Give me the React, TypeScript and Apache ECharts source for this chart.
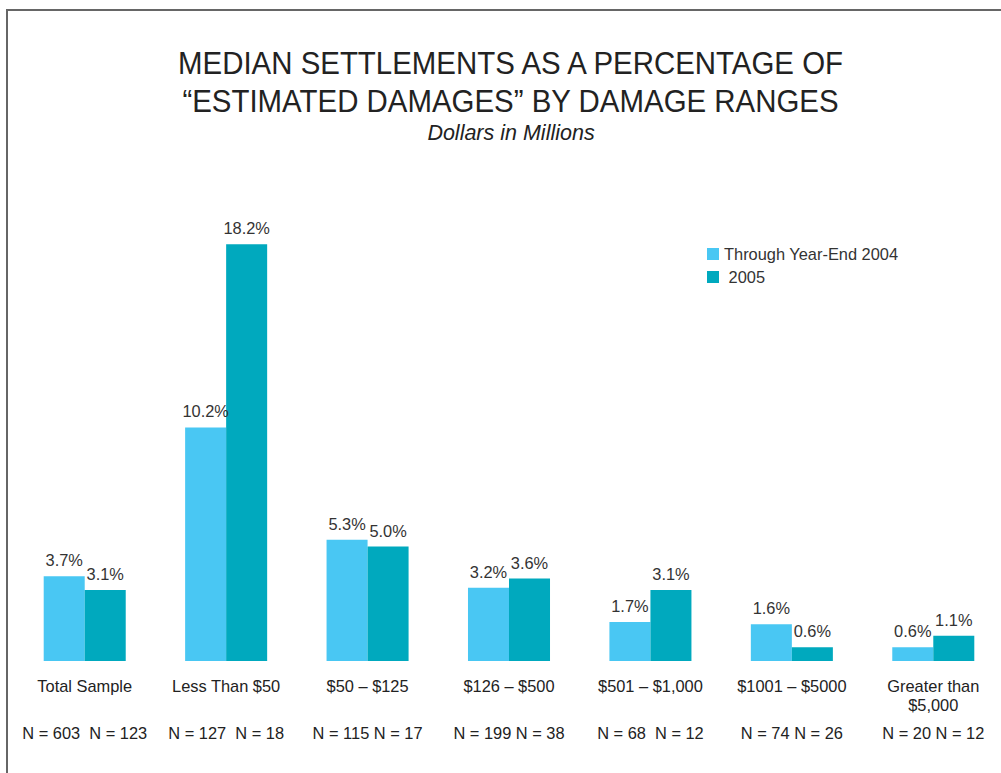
import React, { useEffect, useRef } from "react";
import * as echarts from "echarts";

const categories = [
  "Total Sample",
  "Less Than $50",
  "$50 – $125",
  "$126 – $500",
  "$501 – $1,000",
  "$1001 – $5000",
  "Greater than\n$5,000",
];
const through2004 = [3.7, 10.2, 5.3, 3.2, 1.7, 1.6, 0.6];
const year2005 = [3.1, 18.2, 5.0, 3.6, 3.1, 0.6, 1.1];
const nThrough2004 = [603, 127, 115, 199, 68, 74, 20];
const n2005 = [123, 18, 17, 38, 12, 26, 12];
const nSeparators = ["  ", "  ", " ", " ", "  ", " ", " "];
const titleLines = [
  "MEDIAN SETTLEMENTS AS A PERCENTAGE OF",
  "“ESTIMATED DAMAGES” BY DAMAGE RANGES",
];
const subtitle = "Dollars in Millions";

const LIGHT = "#49C7F3";
const DARK = "#00A9BE";
const FONT = "'Liberation Sans', Arial, sans-serif";
const FS = 16.4;

export default function App() {
  const ref = useRef<HTMLDivElement>(null);
  useEffect(() => {
    document.body.style.margin = "0";
    document.body.style.overflow = "hidden";
    const chart = echarts.init(ref.current!, null, { renderer: "svg" });
    const nLabels = categories.map(
      (_, i) => `N = ${nThrough2004[i]}${nSeparators[i]}N = ${n2005[i]}`
    );
    const labelStyle = {
      show: true,
      position: "top" as const,
      distance: 8,
      color: "#333",
      fontSize: FS,
      fontFamily: FONT,
      formatter: (p: any) => `${p.value.toFixed(1)}%`,
    };
    chart.setOption({
      animation: false,
      backgroundColor: "#fff",
      graphic: [
        {
          type: "rect",
          shape: { x: 7, y: 10, width: 1200, height: 1000 },
          style: { fill: "none", stroke: "#666", lineWidth: 2 },
          silent: true,
        },
        ...titleLines.map((t, i) => ({
          type: "text",
          x: 510.5,
          y: 63.5 + i * 38,
          scaleX: 0.92,
          silent: true,
          style: {
            text: t,
            fontSize: 32,
            fontFamily: FONT,
            fill: "#222",
            align: "center",
            verticalAlign: "middle",
          },
        })),
        {
          type: "text",
          x: 511,
          y: 133,
          silent: true,
          style: {
            text: subtitle,
            fontSize: 21.5,
            fontStyle: "italic",
            fontFamily: FONT,
            fill: "#222",
            align: "center",
            verticalAlign: "middle",
          },
        },
      ],
      legend: {
        orient: "vertical",
        left: 707,
        top: 246,
        padding: 0,
        itemWidth: 12,
        itemHeight: 12,
        itemGap: 7,
        icon: "rect",
        textStyle: { fontSize: FS, color: "#333", fontFamily: FONT },
        formatter: (name: string) => (name === "2005" ? " 2005" : name),
        data: ["Through Year-End 2004", "2005"],
      },
      grid: { left: 14, width: 990, top: 203, height: 458 },
      xAxis: [
        {
          type: "category",
          data: categories,
          axisLine: { show: false },
          axisTick: { show: false },
          axisLabel: {
            margin: 15.5,
            fontSize: FS,
            color: "#222",
            fontFamily: FONT,
            lineHeight: 19,
            interval: 0,
          },
        },
        {
          type: "category",
          data: nLabels,
          position: "bottom",
          offset: 0,
          axisLine: { show: false },
          axisTick: { show: false },
          axisLabel: {
            margin: 63.5,
            fontSize: FS,
            color: "#222",
            fontFamily: FONT,
            interval: 0,
          },
        },
      ],
      yAxis: {
        type: "value",
        min: 0,
        max: 20,
        show: false,
        splitLine: { show: false },
      },
      series: [
        {
          name: "Through Year-End 2004",
          type: "bar",
          data: through2004,
          itemStyle: { color: LIGHT },
          barGap: "0%",
          barCategoryGap: "42%",
          label: labelStyle,
        },
        {
          name: "2005",
          type: "bar",
          data: year2005,
          itemStyle: { color: DARK },
          barGap: "0%",
          barCategoryGap: "42%",
          label: labelStyle,
        },
      ],
    });
    return () => chart.dispose();
  }, []);
  return <div ref={ref} style={{ width: 1020, height: 773 }} />;
}
